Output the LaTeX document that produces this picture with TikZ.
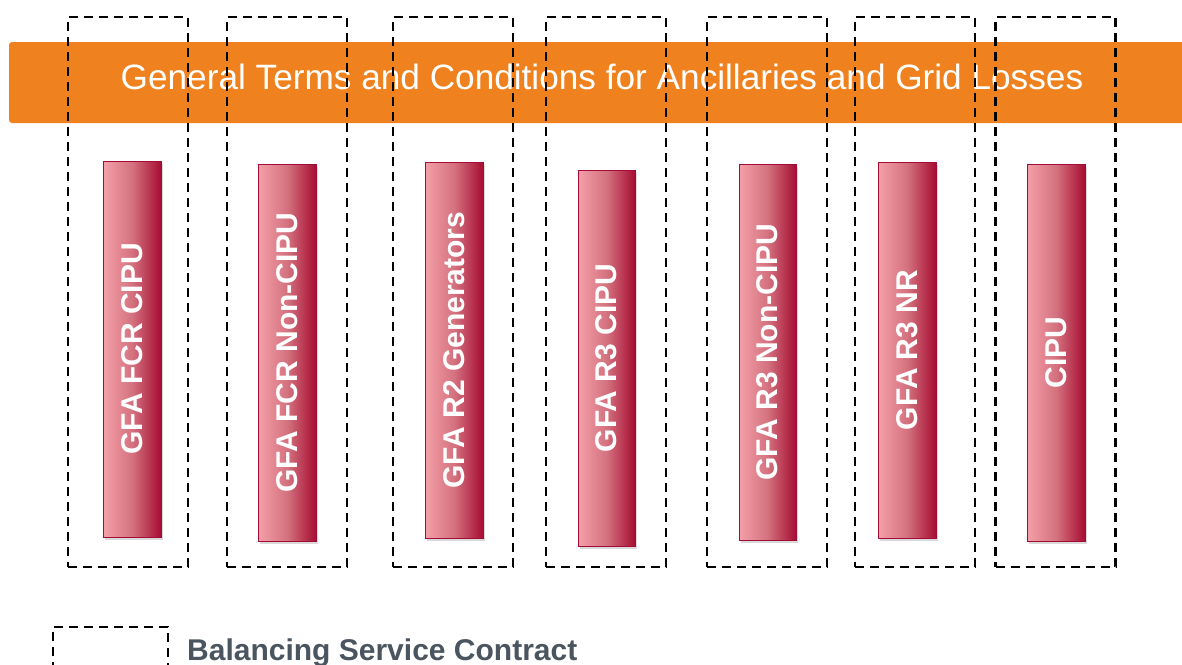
\documentclass[tikz,border=0pt]{standalone}
\usepackage{fontspec}
\setmainfont{Liberation Sans}
\usetikzlibrary{shadows}
\definecolor{bannerc}{HTML}{EF821E}
\definecolor{barlight}{HTML}{F4A0A9}
\definecolor{barmid}{HTML}{D4727F}
\definecolor{bardark}{HTML}{A60D32}
\definecolor{barline}{HTML}{A30C36}
\definecolor{legendtxt}{HTML}{4A5560}
\tikzset{
  bar/.style={rectangle, inner sep=0pt, draw=barline, line width=1pt,
    left color=barlight, right color=bardark, middle color=barmid,
    minimum width=58pt, minimum height=376pt,
    drop shadow={shadow xshift=2pt, shadow yshift=-3pt, opacity=0.15, fill=black}},
  bartext/.style={rotate=90, text=white, font=\bfseries\fontsize{30}{36}\selectfont, inner sep=0pt},
  cbox/.style={rectangle, draw=black, line width=2.4pt, dash pattern=on 9pt off 6pt,
    minimum width=120pt, minimum height=550pt, inner sep=0pt},
}
\begin{document}
\begin{tikzpicture}[x=1pt,y=-1pt]
\useasboundingbox (0,0) rectangle (1182,664);
\begin{scope}
\clip (0,0) rectangle (1182,664);
% banner
\fill[bannerc, rounded corners=3pt] (9,42) rectangle (1195,123);
\node[anchor=base, text=white, font=\fontsize{35.2}{40}\selectfont, inner sep=0pt] (banner) at (602,89)
  {General Terms and Conditions for Ancillaries and Grid Losses};
% bars
\node[bar] (b1) at (132,349) {};
\node[bar, minimum height=377pt] (b2) at (287,352.5) {};
\node[bar] (b3) at (454,350) {};
\node[bar, minimum width=57pt] (b4) at (606.5,358) {};
\node[bar, minimum width=57pt] (b5) at (767.5,352) {};
\node[bar] (b6) at (907,350) {};
\node[bar, minimum height=377pt] (b7) at (1056,352.5) {};
\node[bartext] (t1) at (b1.center) {GFA FCR CIPU};
\node[bartext] (t2) at (b2.center) {GFA FCR Non-CIPU};
\node[bartext] (t3) at (b3.center) {GFA R2 Generators};
\node[bartext] (t4) at (b4.center) {GFA R3 CIPU};
\node[bartext] (t5) at (b5.center) {GFA R3 Non-CIPU};
\node[bartext] (t6) at (b6.center) {GFA R3 NR};
\node[bartext] (t7) at (b7.center) {CIPU};
% contract boxes
\node[cbox] (c1) at (128,292) {};
\node[cbox] (c2) at (287,292) {};
\node[cbox] (c3) at (453,292) {};
\node[cbox] (c4) at (606,292) {};
\node[cbox] (c5) at (767,292) {};
\node[cbox] (c6) at (915,292) {};
\node[cbox] (c7) at (1055.5,292) {};
% legend
\node[cbox, minimum width=115pt, minimum height=80pt] (lg) at (110.5,667) {};
\node[anchor=base west, inner sep=0pt, text=legendtxt, font=\bfseries\fontsize{30}{36}\selectfont] (lgt) at (187,660) {Balancing Service Contract};
\end{scope}
\end{tikzpicture}
\end{document}
